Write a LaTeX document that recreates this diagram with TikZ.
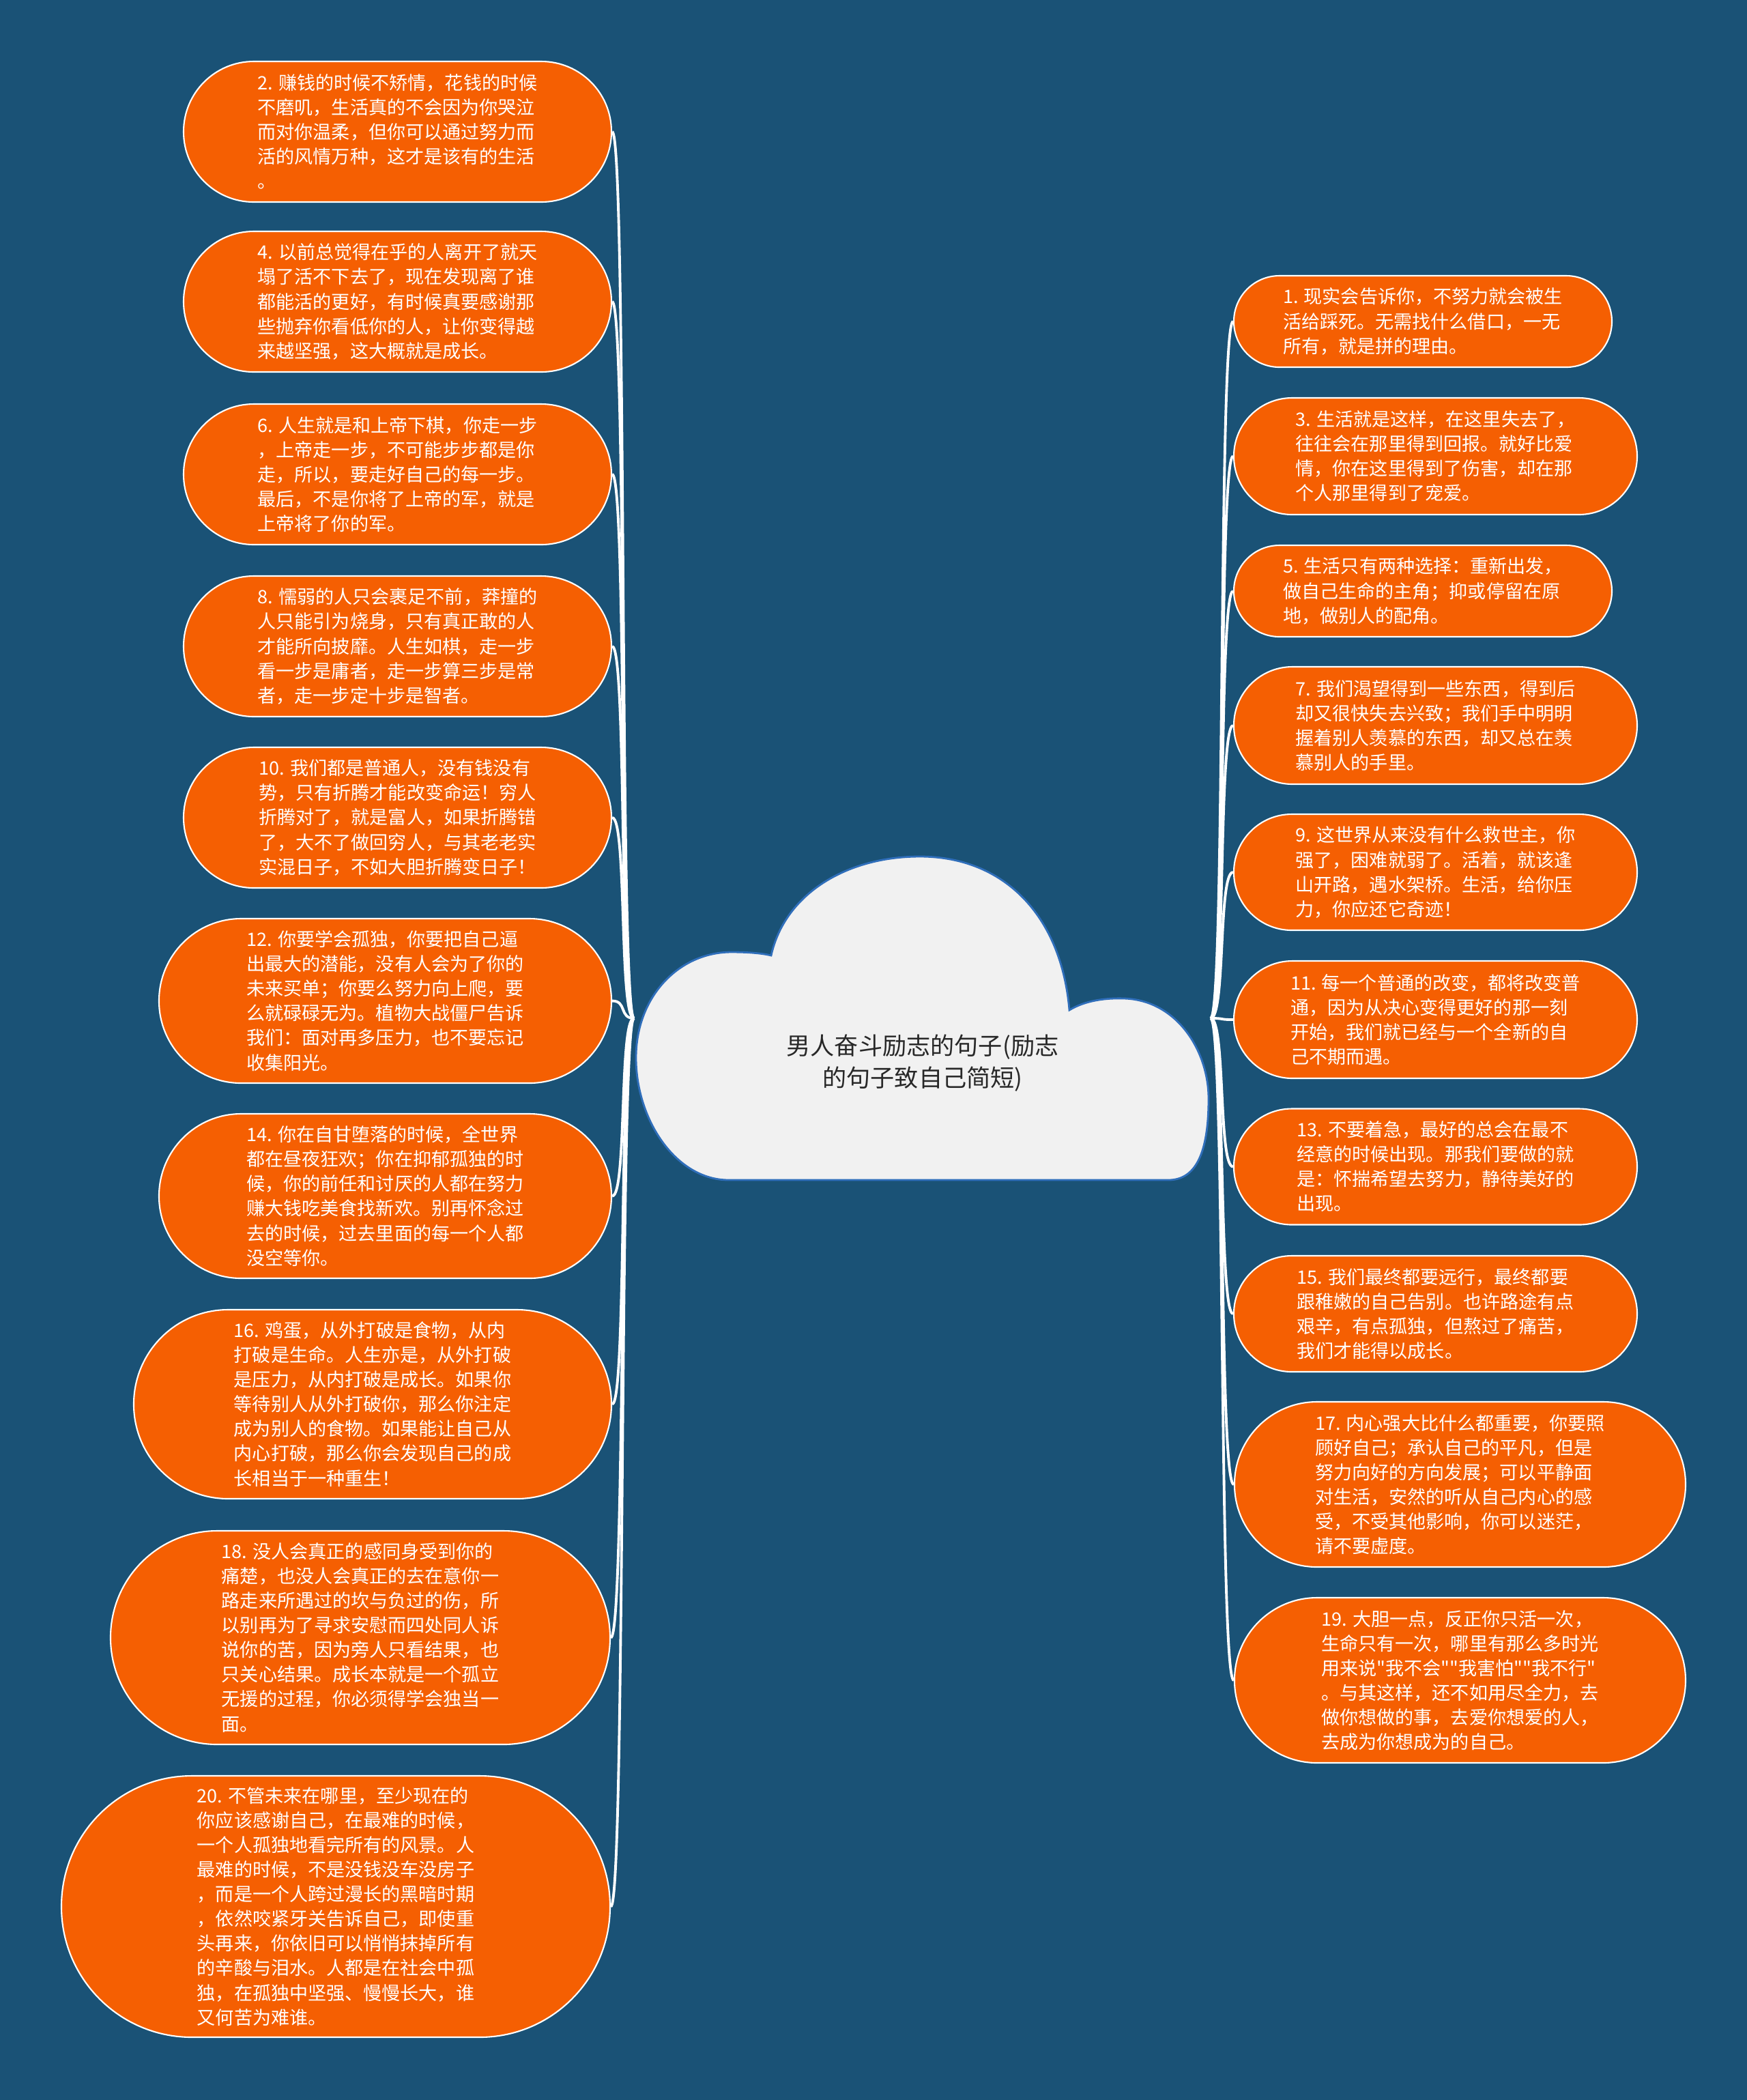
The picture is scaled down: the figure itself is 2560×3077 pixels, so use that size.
\documentclass[tikz,border=0pt]{standalone}
\usepackage{fontspec}
\newfontfamily\cjk{Noto Sans CJK SC}
\definecolor{bgc}{RGB}{26,82,118}
\definecolor{orc}{RGB}{245,95,2}
\definecolor{cloudfill}{RGB}{241,241,241}
\definecolor{cloudline}{RGB}{47,110,186}
\definecolor{roottext}{RGB}{40,40,40}
\begin{document}
\begin{tikzpicture}[x=0.01cm,y=-0.01cm,
 leaf/.style 2 args={draw=white, line width=0.6pt, fill=orc, text=white,
   font=\cjk\fontsize{7.7}{10.25}\selectfont, align=left, inner sep=0pt,
   minimum width=#1*0.01cm, minimum height=#2*0.01cm, rounded corners=#2*0.00499cm},
 conn/.style={draw=white, line width=1.1pt},
 rootlabel/.style={font=\cjk\fontsize{10}{13.4}\selectfont, text=roottext, align=center}
]
\fill[bgc] (0,0) rectangle (2560,3077);

% connectors hubs
\coordinate (hubL) at (929,1492);
\coordinate (hubR) at (1774,1492);

% cloud
\filldraw[fill=cloudfill, draw=cloudline, line width=0.8pt]
 (1130,1400) .. controls (1150,1310) and (1240,1255) .. (1348,1255)
 .. controls (1470,1255) and (1555,1340) .. (1567,1480)
 .. controls (1590,1466) and (1620,1462) .. (1648,1463)
 .. controls (1725,1466) and (1771,1540) .. (1771,1610)
 .. controls (1771,1690) and (1752,1729) .. (1712,1729)
 -- (1068,1729)
 .. controls (990,1729) and (932,1640) .. (932,1550)
 .. controls (932,1460) and (995,1395) .. (1072,1395)
 .. controls (1098,1395) and (1118,1397) .. (1130,1400) -- cycle;
\node[rootlabel] (root) at (1352,1558) {男人奋斗励志的句子(励志\\的句子致自己简短)};

% left nodes
\node[leaf={627}{206}] (L2) at (582.5,193) {2. 赚钱的时候不矫情，花钱的时候\\不磨叽，生活真的不会因为你哭泣\\而对你温柔，但你可以通过努力而\\活的风情万种，这才是该有的生活\\。};
\node[leaf={627}{206}] (L4) at (582.5,442) {4. 以前总觉得在乎的人离开了就天\\塌了活不下去了，现在发现离了谁\\都能活的更好，有时候真要感谢那\\些抛弃你看低你的人，让你变得越\\来越坚强，这大概就是成长。};
\node[leaf={627}{206}] (L6) at (582.5,695) {6. 人生就是和上帝下棋，你走一步\\，上帝走一步，不可能步步都是你\\走，所以，要走好自己的每一步。\\最后，不是你将了上帝的军，就是\\上帝将了你的军。};
\node[leaf={627}{206}] (L8) at (582.5,947) {8. 懦弱的人只会裹足不前，莽撞的\\人只能引为烧身，只有真正敢的人\\才能所向披靡。人生如棋，走一步\\看一步是庸者，走一步算三步是常\\者，走一步定十步是智者。};
\node[leaf={627}{206}] (L10) at (582.5,1198) {10. 我们都是普通人，没有钱没有\\势，只有折腾才能改变命运！穷人\\折腾对了，就是富人，如果折腾错\\了，大不了做回穷人，与其老老实\\实混日子，不如大胆折腾变日子！};
\node[leaf={663}{241}] (L12) at (564.5,1466.5) {12. 你要学会孤独，你要把自己逼\\出最大的潜能，没有人会为了你的\\未来买单；你要么努力向上爬，要\\么就碌碌无为。植物大战僵尸告诉\\我们：面对再多压力，也不要忘记\\收集阳光。};
\node[leaf={663}{241}] (L14) at (564.5,1752.5) {14. 你在自甘堕落的时候，全世界\\都在昼夜狂欢；你在抑郁孤独的时\\候，你的前任和讨厌的人都在努力\\赚大钱吃美食找新欢。别再怀念过\\去的时候，过去里面的每一个人都\\没空等你。};
\node[leaf={700}{277}] (L16) at (546,2057.5) {16. 鸡蛋，从外打破是食物，从内\\打破是生命。人生亦是，从外打破\\是压力，从内打破是成长。如果你\\等待别人从外打破你，那么你注定\\成为别人的食物。如果能让自己从\\内心打破，那么你会发现自己的成\\长相当于一种重生！};
\node[leaf={732}{313}] (L18) at (528,2399.5) {18. 没人会真正的感同身受到你的\\痛楚，也没人会真正的去在意你一\\路走来所遇过的坎与负过的伤，所\\以别再为了寻求安慰而四处同人诉\\说你的苦，因为旁人只看结果，也\\只关心结果。成长本就是一个孤立\\无援的过程，你必须得学会独当一\\面。};
\node[leaf={804}{383}] (L20) at (492,2793.5) {20. 不管未来在哪里，至少现在的\\你应该感谢自己，在最难的时候，\\一个人孤独地看完所有的风景。人\\最难的时候，不是没钱没车没房子\\，而是一个人跨过漫长的黑暗时期\\，依然咬紧牙关告诉自己，即使重\\头再来，你依旧可以悄悄抹掉所有\\的辛酸与泪水。人都是在社会中孤\\独，在孤独中坚强、慢慢长大，谁\\又何苦为难谁。};

% right nodes
\node[leaf={554}{134}] (R1) at (2085,471) {1. 现实会告诉你，不努力就会被生\\活给踩死。无需找什么借口，一无\\所有，就是拼的理由。};
\node[leaf={591}{171}] (R3) at (2103.5,668.5) {3. 生活就是这样，在这里失去了，\\往往会在那里得到回报。就好比爱\\情，你在这里得到了伤害，却在那\\个人那里得到了宠爱。};
\node[leaf={554}{134}] (R5) at (2085,866) {5. 生活只有两种选择：重新出发，\\做自己生命的主角；抑或停留在原\\地，做别人的配角。};
\node[leaf={591}{172}] (R7) at (2103.5,1063) {7. 我们渴望得到一些东西，得到后\\却又很快失去兴致；我们手中明明\\握着别人羡慕的东西，却又总在羡\\慕别人的手里。};
\node[leaf={591}{170}] (R9) at (2103.5,1278) {9. 这世界从来没有什么救世主，你\\强了，困难就弱了。活着，就该逢\\山开路，遇水架桥。生活，给你压\\力，你应还它奇迹！};
\node[leaf={591}{172}] (R11) at (2103.5,1494) {11. 每一个普通的改变，都将改变普\\通，因为从决心变得更好的那一刻\\开始，我们就已经与一个全新的自\\己不期而遇。};
\node[leaf={591}{170}] (R13) at (2103.5,1709.5) {13. 不要着急，最好的总会在最不\\经意的时候出现。那我们要做的就\\是：怀揣希望去努力，静待美好的\\出现。};
\node[leaf={591}{170}] (R15) at (2103.5,1925) {15. 我们最终都要远行，最终都要\\跟稚嫩的自己告别。也许路途有点\\艰辛，有点孤独，但熬过了痛苦，\\我们才能得以成长。};
\node[leaf={661}{242}] (R17) at (2139.5,2175) {17. 内心强大比什么都重要，你要照\\顾好自己；承认自己的平凡，但是\\努力向好的方向发展；可以平静面\\对生活，安然的听从自己内心的感\\受，不受其他影响，你可以迷茫，\\请不要虚度。};
\node[leaf={661}{242}] (R19) at (2139.5,2462) {19. 大胆一点，反正你只活一次，\\生命只有一次，哪里有那么多时光\\用来说"我不会""我害怕""我不行"\\。与其这样，还不如用尽全力，去\\做你想做的事，去爱你想爱的人，\\去成为你想成为的自己。};

% connectors
\foreach \n in {L2,L4,L6,L8,L10,L12,L14,L16,L18,L20}
  \draw[conn] (\n.east) .. controls +(22,0) and +(-22,0) .. (hubL);
\foreach \n in {R1,R3,R5,R7,R9,R11,R13,R15,R17,R19}
  \draw[conn] (\n.west) .. controls +(-22,0) and +(22,0) .. (hubR);
\end{tikzpicture}
\end{document}
